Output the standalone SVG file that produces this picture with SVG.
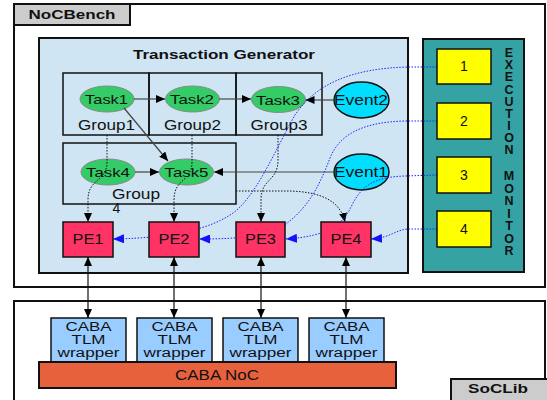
<svg xmlns="http://www.w3.org/2000/svg" width="547" height="400" viewBox="0 0 547 400">
<style>
text{font-family:"Liberation Sans",Arial,sans-serif;fill:#111}
.b{font-weight:bold}
.frame{fill:#fff;stroke:#111;stroke-width:2}
.tab{fill:#cccccc;stroke:#111;stroke-width:2}
.grp{fill:none;stroke:#111;stroke-width:1.5}
.task{fill:#33cc66;stroke:#888;stroke-width:1}
.evt{fill:#00ddff;stroke:#111;stroke-width:1.5}
.pe{fill:#ff3366;stroke:#111;stroke-width:1.5}
.mon{fill:#ffff00;stroke:#111;stroke-width:1.5}
.wrap{fill:#99ccff;stroke:#111;stroke-width:1.5}
.solid{fill:none;stroke:#444;stroke-width:1.2;marker-end:url(#ab)}
.bdot{fill:none;stroke:#111;stroke-width:1;stroke-dasharray:1.5 1.5;marker-end:url(#ab)}
.udot{fill:none;stroke:#2222ff;stroke-width:1;stroke-dasharray:1.5 1.5;marker-end:url(#au)}
.dbl{fill:none;stroke:#111;stroke-width:1.2;marker-start:url(#ab);marker-end:url(#ab)}
</style>
<defs>
<marker id="ab" markerUnits="userSpaceOnUse" markerWidth="9" markerHeight="8" refX="9" refY="4" orient="auto-start-reverse"><path d="M0,0 L9,4 L0,8 z" fill="#000"/></marker>
<marker id="au" markerUnits="userSpaceOnUse" markerWidth="11" markerHeight="9" refX="11" refY="4.5" orient="auto"><path d="M0,0 L11,4.5 L0,9 z" fill="#1111ff"/></marker>
</defs>

<g id="nocbench">
<rect class="frame" x="14" y="4" width="531" height="283"/>
<rect class="tab" x="14" y="4" width="116" height="21"/>
<text class="b" x="72" y="19" font-size="13" text-anchor="middle" textLength="87" lengthAdjust="spacingAndGlyphs">NoCBench</text>
</g>

<g id="soclib">
<rect class="frame" x="14" y="301" width="531" height="110"/>
<rect class="tab" x="451" y="379" width="100" height="25"/>
<text class="b" x="498" y="393" font-size="13" text-anchor="middle" textLength="60" lengthAdjust="spacingAndGlyphs">SoCLib</text>
</g>

<g id="transaction-generator">
<rect x="39" y="38" width="369" height="235" fill="#d0e5f3" stroke="#111" stroke-width="2"/>
<text class="b" x="224" y="59" font-size="13" text-anchor="middle" textLength="182" lengthAdjust="spacingAndGlyphs">Transaction Generator</text>
</g>

<g id="group1"><rect class="grp" x="63" y="73" width="86" height="62"/><text x="106.5" y="130" font-size="15" text-anchor="middle" textLength="57" lengthAdjust="spacingAndGlyphs">Group1</text></g>
<g id="group2"><rect class="grp" x="149" y="73" width="87" height="62"/><text x="192.5" y="130" font-size="15" text-anchor="middle" textLength="57" lengthAdjust="spacingAndGlyphs">Group2</text></g>
<g id="group3"><rect class="grp" x="236" y="73" width="86" height="62"/><text x="279" y="130" font-size="15" text-anchor="middle" textLength="57" lengthAdjust="spacingAndGlyphs">Group3</text></g>
<g id="group4"><rect class="grp" x="63" y="143" width="173" height="61"/><text x="136" y="199" font-size="14" text-anchor="middle" textLength="48" lengthAdjust="spacingAndGlyphs">Group</text><text x="116.5" y="213" font-size="14" text-anchor="middle">4</text></g>

<g id="task1"><ellipse class="task" cx="107" cy="99" rx="27" ry="13"/><text x="106.5" y="104" font-size="13" text-anchor="middle" textLength="43" lengthAdjust="spacingAndGlyphs">Task1</text></g>
<g id="task2"><ellipse class="task" cx="192.5" cy="99" rx="27" ry="13"/><text x="192" y="104" font-size="13" text-anchor="middle" textLength="44" lengthAdjust="spacingAndGlyphs">Task2</text></g>
<g id="task3"><ellipse class="task" cx="278.5" cy="99.5" rx="27" ry="13"/><text x="278" y="104.5" font-size="13" text-anchor="middle" textLength="44" lengthAdjust="spacingAndGlyphs">Task3</text></g>
<g id="task4"><ellipse class="task" cx="108" cy="172" rx="27" ry="13"/><text x="108" y="177" font-size="13" text-anchor="middle" textLength="44" lengthAdjust="spacingAndGlyphs">Task4</text></g>
<g id="task5"><ellipse class="task" cx="186.5" cy="172" rx="27" ry="13"/><text x="186.5" y="177" font-size="13" text-anchor="middle" textLength="44" lengthAdjust="spacingAndGlyphs">Task5</text></g>

<g id="event2"><ellipse class="evt" cx="361.5" cy="100" rx="27.5" ry="18"/><text x="361" y="105" font-size="14" text-anchor="middle" textLength="54" lengthAdjust="spacingAndGlyphs">Event2</text></g>
<g id="event1"><ellipse class="evt" cx="361.5" cy="172" rx="27.5" ry="18"/><text x="361" y="177" font-size="14" text-anchor="middle" textLength="54" lengthAdjust="spacingAndGlyphs">Event1</text></g>

<g id="execution-monitor">
<rect x="423" y="39" width="101" height="233" fill="#35a3a3" stroke="#111" stroke-width="2"/>
<text class="b" font-size="12.5" text-anchor="middle">
<tspan x="509" y="57">E</tspan><tspan x="509" y="69.2">X</tspan><tspan x="509" y="81.3">E</tspan><tspan x="509" y="93.5">C</tspan><tspan x="509" y="105.6">U</tspan><tspan x="509" y="117.8">T</tspan><tspan x="509" y="130">I</tspan><tspan x="509" y="142.1">O</tspan><tspan x="509" y="154.3">N</tspan><tspan x="509" y="180.3">M</tspan><tspan x="509" y="192.8">O</tspan><tspan x="509" y="205.3">N</tspan><tspan x="509" y="217.8">I</tspan><tspan x="509" y="230.3">T</tspan><tspan x="509" y="242.8">O</tspan><tspan x="509" y="255.3">R</tspan>
</text>
</g>

<g id="connectors">
<path class="solid" d="M134,99 L165,99"/>
<path class="solid" d="M219.5,99 L251,99"/>
<path class="solid" d="M334,100 L305.5,100"/>
<path class="solid" d="M124,108 L168,161"/>
<path class="solid" d="M135,172 L159,172"/>
<path class="solid" d="M334,172 L214,172"/>
<path class="bdot" d="M107,135 L107,162 C107,182 88,178 88,200 L88,222"/>
<path class="bdot" d="M192,135 L192,162 C192,182 174,178 174,200 L174,222"/>
<path class="bdot" d="M278,135 L278,160 C278,182 261,178 261,200 L261,222"/>
<path class="bdot" d="M236,191 L290,191 C320,192 340,200 345,222"/>
<path class="udot" d="M437,67 L410,67 C350,68 315,85 295,115 C275,150 255,200 230,215 C210,228 175,238 113,239"/>
<path class="udot" d="M437,121 L405,121 C365,122 340,133 330,158 C318,190 305,212 280,228 C265,236 240,239 199,239"/>
<path class="udot" d="M437,175 L405,176 C375,177 362,185 352,205 C343,224 330,236 286,239"/>
<path class="udot" d="M437,229 L408,229 C395,230 390,238 371,239"/>
<path class="dbl" d="M88,257 L88,318"/>
<path class="dbl" d="M174,257 L174,318"/>
<path class="dbl" d="M261,257 L261,318"/>
<path class="dbl" d="M346,257 L346,318"/>
</g>

<g id="mon1"><rect class="mon" x="437" y="49" width="54" height="35"/><text x="464" y="71" font-size="14" text-anchor="middle">1</text></g>
<g id="mon2"><rect class="mon" x="437" y="103" width="54" height="36"/><text x="464" y="126" font-size="14" text-anchor="middle">2</text></g>
<g id="mon3"><rect class="mon" x="437" y="157" width="54" height="36"/><text x="464" y="180" font-size="14" text-anchor="middle">3</text></g>
<g id="mon4"><rect class="mon" x="437" y="211" width="54" height="36"/><text x="464" y="234" font-size="14" text-anchor="middle">4</text></g>

<g id="pe1"><rect class="pe" x="63" y="222" width="50" height="35"/><text x="88" y="244" font-size="14" text-anchor="middle" textLength="31" lengthAdjust="spacingAndGlyphs">PE1</text></g>
<g id="pe2"><rect class="pe" x="149" y="222" width="50" height="35"/><text x="174" y="244" font-size="14" text-anchor="middle" textLength="31" lengthAdjust="spacingAndGlyphs">PE2</text></g>
<g id="pe3"><rect class="pe" x="236" y="222" width="49" height="35"/><text x="260.5" y="244" font-size="14" text-anchor="middle" textLength="31" lengthAdjust="spacingAndGlyphs">PE3</text></g>
<g id="pe4"><rect class="pe" x="321" y="222" width="50" height="35"/><text x="346" y="244" font-size="14" text-anchor="middle" textLength="31" lengthAdjust="spacingAndGlyphs">PE4</text></g>

<g id="wrapper1"><rect class="wrap" x="51" y="318" width="75" height="46"/><text font-size="12.5" text-anchor="middle"><tspan x="88.5" y="331" textLength="46" lengthAdjust="spacingAndGlyphs">CABA</tspan><tspan x="88.5" y="344" textLength="34" lengthAdjust="spacingAndGlyphs">TLM</tspan><tspan x="88.5" y="357" textLength="62" lengthAdjust="spacingAndGlyphs">wrapper</tspan></text></g>
<g id="wrapper2"><rect class="wrap" x="137" y="318" width="75" height="46"/><text font-size="12.5" text-anchor="middle"><tspan x="174.5" y="331" textLength="46" lengthAdjust="spacingAndGlyphs">CABA</tspan><tspan x="174.5" y="344" textLength="34" lengthAdjust="spacingAndGlyphs">TLM</tspan><tspan x="174.5" y="357" textLength="62" lengthAdjust="spacingAndGlyphs">wrapper</tspan></text></g>
<g id="wrapper3"><rect class="wrap" x="223" y="318" width="75" height="46"/><text font-size="12.5" text-anchor="middle"><tspan x="260.5" y="331" textLength="46" lengthAdjust="spacingAndGlyphs">CABA</tspan><tspan x="260.5" y="344" textLength="34" lengthAdjust="spacingAndGlyphs">TLM</tspan><tspan x="260.5" y="357" textLength="62" lengthAdjust="spacingAndGlyphs">wrapper</tspan></text></g>
<g id="wrapper4"><rect class="wrap" x="309" y="318" width="75" height="46"/><text font-size="12.5" text-anchor="middle"><tspan x="346.5" y="331" textLength="46" lengthAdjust="spacingAndGlyphs">CABA</tspan><tspan x="346.5" y="344" textLength="34" lengthAdjust="spacingAndGlyphs">TLM</tspan><tspan x="346.5" y="357" textLength="62" lengthAdjust="spacingAndGlyphs">wrapper</tspan></text></g>

<g id="caba-noc"><rect x="39" y="362" width="357" height="26" fill="#e8613d" stroke="#111" stroke-width="2"/><text x="217" y="380" font-size="14" text-anchor="middle" textLength="84" lengthAdjust="spacingAndGlyphs">CABA NoC</text></g>
</svg>
